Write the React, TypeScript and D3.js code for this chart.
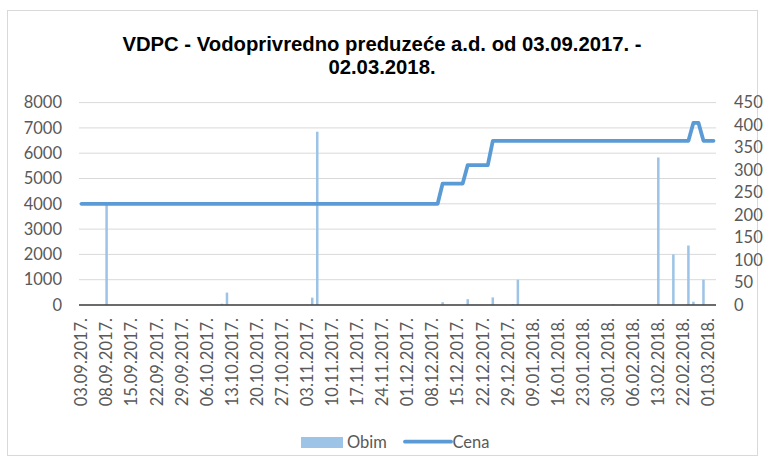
import * as d3 from "d3";

// trading days, grouped by month
const sep17 = ["03","04","05","06","07","08","11","12","13","14","15","18","19","20","21","22","25","26","27","28","29"];
const oct17 = ["02","03","04","05","06","09","10","11","12","13","16","17","18","19","20","23","24","25","26","27","30","31"];
const nov17 = ["01","02","03","06","07","08","09","10","13","14","15","16","17","20","21","22","23","24","27","28","29","30"];
const dec17 = ["01","04","05","06","07","08","11","12","13","14","15","18","19","20","21","22","25","26","27","28","29"];
const jan18 = ["03","04","05","08","09","10","11","12","15","16","17","18","19","22","23","24","25","26","29","30","31"];
const feb18 = ["01","02","05","06","07","08","09","12","13","14","19","20","21","22","23","26","27","28"];
const mar18 = ["01","02"];

const categories: string[] = [
  ...sep17.map(d => `${d}.09.2017.`),
  ...oct17.map(d => `${d}.10.2017.`),
  ...nov17.map(d => `${d}.11.2017.`),
  ...dec17.map(d => `${d}.12.2017.`),
  ...jan18.map(d => `${d}.01.2018.`),
  ...feb18.map(d => `${d}.02.2018.`),
  ...mar18.map(d => `${d}.03.2018.`),
];

// Obim (volume) - only days with trades
const obimDates = [
  "08.09.2017.", "11.10.2017.", "12.10.2017.", "06.11.2017.", "07.11.2017.",
  "12.12.2017.", "19.12.2017.", "26.12.2017.", "03.01.2018.", "04.01.2018.",
  "31.01.2018.", "13.02.2018.", "20.02.2018.", "23.02.2018.", "26.02.2018.", "28.02.2018.",
];
const obimValues = [3980, 50, 490, 290, 6850, 110, 230, 300, 40, 1000, 30, 5830, 2000, 2350, 130, 1000];

// Cena (price), one value per trading day
const cena = [
  // sep
  225,225,225,225,225,225,225,225,225,225,225,225,225,225,225,225,225,225,225,225,225,
  // oct
  225,225,225,225,225,225,225,225,225,225,225,225,225,225,225,225,225,225,225,225,225,225,
  // nov
  225,225,225,225,225,225,225,225,225,225,225,225,225,225,225,225,225,225,225,225,225,225,
  // dec
  225,225,225,225,225,225,225,270,270,270,270,270,311,311,311,311,311,365,365,365,365,
  // jan
  365,365,365,365,365,365,365,365,365,365,365,365,365,365,365,365,365,365,365,365,365,
  // feb
  365,365,365,365,365,365,365,365,365,365,365,365,365,365,365,405,405,365,
  // mar
  365,365,
];

const leftTicks = [0, 1000, 2000, 3000, 4000, 5000, 6000, 7000, 8000];
const rightTicks = [0, 50, 100, 150, 200, 250, 300, 350, 400, 450];

const W = 767;
const H = 464;
const plot = { left: 79, right: 716, top: 102.6, bottom: 305 };
const font = "Lato, 'Open Sans', sans-serif";
const textColor = "#595959";

export default function App() {
  const x = d3.scaleBand<string>()
    .domain(categories)
    .range([plot.left, plot.right])
    .paddingInner(0.5)
    .paddingOuter(0.25);
  const yL = d3.scaleLinear().domain([0, 8000]).range([plot.bottom, plot.top]);
  const yR = d3.scaleLinear().domain([0, 450]).range([plot.bottom, plot.top]);

  const cx = (c: string) => (x(c) ?? 0) + x.bandwidth() / 2;

  const line = d3.line<number>()
    .x((_, i) => cx(categories[i]))
    .y(d => yR(d));

  const xLabels = categories.filter((_, i) => i % 5 === 0);

  return (
    <svg width={W} height={H} style={{ position: "absolute", left: 0, top: 0, background: "#fff" }}>
      <rect x={7.5} y={10.5} width={750} height={445} fill="#fff" stroke="#d9d9d9" />

      <text textAnchor="middle" fontFamily="'Liberation Sans', Arial, sans-serif" fontWeight="bold" fontSize={20.3} fill="#000">
        <tspan x={382} y={51}>VDPC  - Vodoprivredno preduzeće a.d. od 03.09.2017. -</tspan>
        <tspan x={382} y={74}>02.03.2018.</tspan>
      </text>

      {/* gridlines */}
      {leftTicks.map(t => (
        <line key={t} x1={plot.left} x2={plot.right} y1={yL(t)} y2={yL(t)} stroke="#d9d9d9" strokeWidth={1} />
      ))}

      {/* left axis labels */}
      {leftTicks.map(t => (
        <text key={t} x={62} y={yL(t)} dy="0.35em" textAnchor="end" fontFamily={font} fontSize={16.5} fill={textColor}>{t}</text>
      ))}
      {/* right axis labels */}
      {rightTicks.map(t => (
        <text key={t} x={734} y={yR(t)} dy="0.35em" textAnchor="start" fontFamily={font} fontSize={16.5} fill={textColor}>{t}</text>
      ))}

      {/* bars */}
      {obimDates.map((d, i) => (
        <rect key={d} x={x(d)} width={x.bandwidth()} y={yL(obimValues[i])} height={plot.bottom - yL(obimValues[i])} fill="#9dc3e6" />
      ))}

      {/* x axis */}
      <line x1={plot.left} x2={plot.right} y1={plot.bottom} y2={plot.bottom} stroke="#404040" strokeWidth={1.3} />
      {xLabels.map(c => (
        <text key={c} transform={`translate(${cx(c)},318) rotate(-90)`} dy="0.35em" textAnchor="end" fontFamily={font} fontSize={16.5} fill={textColor}>{c}</text>
      ))}

      {/* price line */}
      <path d={line(cena) ?? ""} fill="none" stroke="#5b9bd5" strokeWidth={3.8} strokeLinejoin="round" strokeLinecap="round" />

      {/* legend */}
      <rect x={301} y={437} width={42} height={11} fill="#9dc3e6" />
      <text x={347} y={447.5} fontFamily={font} fontSize={16.5} fill={textColor}>Obim</text>
      <line x1={405} x2={451} y1={441.7} y2={441.7} stroke="#5b9bd5" strokeWidth={3.8} strokeLinecap="round" />
      <text x={452.5} y={447.5} fontFamily={font} fontSize={16.5} fill={textColor}>Cena</text>
    </svg>
  );
}
